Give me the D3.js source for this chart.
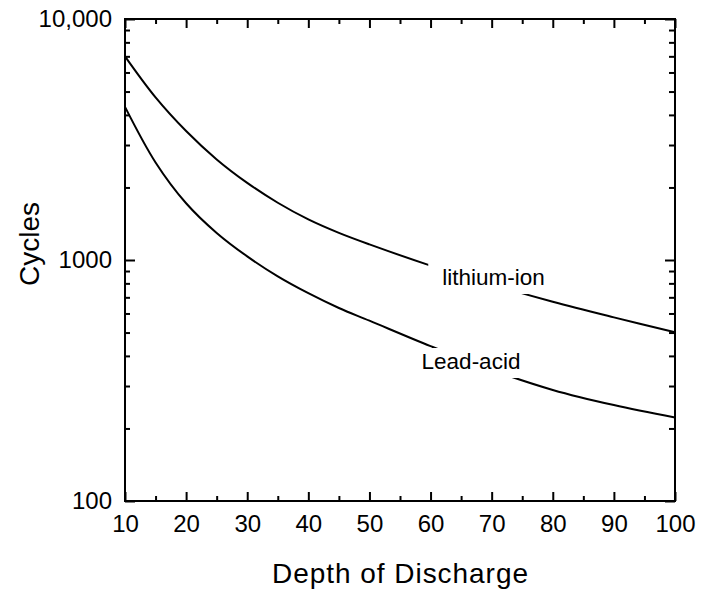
<!DOCTYPE html>
<html>
<head>
<meta charset="utf-8">
<script src="https://cdn.jsdelivr.net/npm/d3@7/dist/d3.min.js"></script>
<style>
  html, body { margin: 0; padding: 0; background: #fff; }
  svg { display: block; }
  text { font-family: "Liberation Sans", Arial, Helvetica, sans-serif; fill: #000; }
</style>
</head>
<body>
<svg id="chart" width="702" height="591"></svg>
<script>
// Cycle life versus depth of discharge, two battery chemistries
const depth = [10, 15, 20, 25, 30, 35, 40, 45, 50, 60, 70, 80, 90, 100];
const lithiumIon = [7000, 4730, 3430, 2615, 2090, 1728, 1474, 1296, 1161, 948, 791, 671, 578, 501];
const leadAcid = [4320, 2540, 1720, 1295, 1035, 855, 728, 632, 560, 439, 350, 289, 250, 222];

const xMajorTicks = [10, 20, 30, 40, 50, 60, 70, 80, 90, 100];
const xMinorTicks = [15, 25, 35, 45, 55, 65, 75, 85, 95];
const yMajorTicks = [100, 1000, 10000];
const yTickLabels = ["100", "1000", "10,000"];
const yMinorTicks = [200, 300, 400, 500, 600, 700, 800, 900,
                     2000, 3000, 4000, 5000, 6000, 7000, 8000, 9000];

const seriesNames = ["lithium-ion", "Lead-acid"];

const plotL = 125, plotR = 675, plotT = 19, plotB = 501;
const svg = d3.select("#chart");

const x = d3.scaleLinear().domain([10, 100]).range([plotL, plotR]);
const y = d3.scaleLog().domain([100, 10000]).range([plotB, plotT]);

// curves
const line = d3.line()
  .x((d, i) => x(depth[i]))
  .y(d => y(d))
  .curve(d3.curveCatmullRom.alpha(0.5));

const curves = svg.append("g");
[lithiumIon, leadAcid].forEach(vals => {
  curves.append("path")
    .attr("d", line(vals))
    .attr("fill", "none")
    .attr("stroke", "#000")
    .attr("stroke-width", 2);
});

// inline series labels, each on a white box that breaks its curve
const labelLayout = [
  { cx: 493.5, base: 285, padL: 14, padR: 4, padT: 21, padB: 9 },
  { cx: 471, base: 369, padL: 5, padR: 5, padT: 21, padB: 9 }
];
const labels = svg.append("g");
seriesNames.forEach((name, i) => {
  const p = labelLayout[i];
  const box = labels.append("rect").attr("fill", "#fff");
  const t = labels.append("text")
    .attr("x", p.cx)
    .attr("y", p.base)
    .attr("text-anchor", "middle")
    .attr("font-size", 22.5)
    .text(name);
  const bb = t.node().getBBox();
  box.attr("x", bb.x - p.padL)
    .attr("y", p.base - p.padT)
    .attr("width", bb.width + p.padL + p.padR)
    .attr("height", p.padT + p.padB);
});

// axes: inward ticks on all four sides
function styleAxis(g) {
  g.select(".domain").remove();
  g.selectAll(".tick line").attr("stroke", "#000").attr("stroke-width", 2);
  g.selectAll(".tick text").attr("font-size", 24).attr("font-family", "Liberation Sans, Arial, sans-serif");
}

svg.append("g")
  .attr("transform", `translate(0,${plotB})`)
  .call(d3.axisBottom(x).tickValues(xMajorTicks).tickSize(-9).tickPadding(14).tickFormat(d3.format("d")))
  .call(styleAxis);
svg.append("g")
  .attr("transform", `translate(0,${plotB})`)
  .call(d3.axisBottom(x).tickValues(xMinorTicks).tickSize(-5).tickFormat(""))
  .call(styleAxis);
svg.append("g")
  .attr("transform", `translate(0,${plotT})`)
  .call(d3.axisTop(x).tickValues(xMajorTicks).tickSize(-9).tickFormat(""))
  .call(styleAxis);
svg.append("g")
  .attr("transform", `translate(0,${plotT})`)
  .call(d3.axisTop(x).tickValues(xMinorTicks).tickSize(-5).tickFormat(""))
  .call(styleAxis);

svg.append("g")
  .attr("transform", `translate(${plotL},0)`)
  .call(d3.axisLeft(y).tickValues(yMajorTicks).tickSize(-10).tickPadding(13)
    .tickFormat((d, i) => yTickLabels[i]))
  .call(styleAxis);
svg.append("g")
  .attr("transform", `translate(${plotL},0)`)
  .call(d3.axisLeft(y).tickValues(yMinorTicks).tickSize(-5).tickFormat(""))
  .call(styleAxis);
svg.append("g")
  .attr("transform", `translate(${plotR},0)`)
  .call(d3.axisRight(y).tickValues(yMajorTicks).tickSize(-10).tickFormat(""))
  .call(styleAxis);
svg.append("g")
  .attr("transform", `translate(${plotR},0)`)
  .call(d3.axisRight(y).tickValues(yMinorTicks).tickSize(-6).tickFormat(""))
  .call(styleAxis);

// frame
svg.append("rect")
  .attr("x", plotL).attr("y", plotT)
  .attr("width", plotR - plotL).attr("height", plotB - plotT)
  .attr("fill", "none").attr("stroke", "#000").attr("stroke-width", 2);

// axis titles
svg.append("text")
  .attr("x", (plotL + plotR) / 2)
  .attr("y", 583)
  .attr("text-anchor", "middle")
  .attr("font-size", 28)
  .attr("textLength", 256)
  .text("Depth of Discharge");

svg.append("text")
  .attr("transform", "translate(39,244) rotate(-90)")
  .attr("text-anchor", "middle")
  .attr("font-size", 28)
  .text("Cycles");
</script>
</body>
</html>
